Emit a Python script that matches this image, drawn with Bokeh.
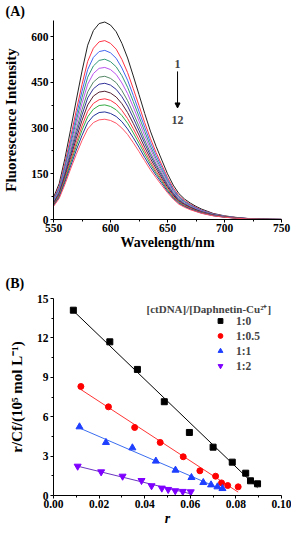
from bokeh.plotting import figure
from bokeh.layouts import column
from bokeh.models import (Range1d, Label, Arrow, NormalHead, Legend, LegendItem,
                          PrintfTickFormatter, FixedTicker)
from bokeh.embed import file_html
from bokeh.resources import INLINE
import numpy as np

# ---------------- Panel A data: fluorescence spectra ----------------
wavelength = [550, 555, 560, 565, 570, 575, 580, 585, 590, 595, 600, 605, 610, 615, 620,
              625, 630, 635, 640, 645, 650, 655, 660, 665, 670, 675, 680, 690, 700, 710,
              720, 730, 740, 750]

spec1 = [72, 118, 200, 295, 392, 487, 572, 620, 643, 648, 638, 616, 578, 530, 471, 410, 348, 290,
         240, 195, 150, 113, 85, 67, 54, 43, 34, 20, 12, 7, 3.5, 1.5, 0.6, 0.2]
spec2 = [66, 109, 184, 270, 358, 443, 519, 562, 583, 587, 578, 559, 525, 482, 429, 374, 318, 266,
         220, 179, 138, 104, 78, 62, 50, 40, 31, 18.5, 11.1, 6.5, 3.2, 1.4, 0.55, 0.2]
spec3 = [64, 104, 175, 257, 340, 421, 492, 532, 551, 555, 547, 529, 497, 457, 407, 355, 303, 253,
         210, 171, 132, 99, 75, 59, 48, 38, 30, 17.7, 10.6, 6.2, 3.1, 1.3, 0.53, 0.18]
spec4 = [61, 99, 168, 246, 324, 400, 467, 504, 522, 526, 518, 501, 472, 434, 387, 338, 289, 241,
         200, 163, 126, 95, 72, 57, 46, 36, 29, 17, 10.2, 5.9, 3.0, 1.3, 0.5, 0.18]
spec5 = [58, 95, 160, 235, 309, 381, 444, 479, 496, 499, 492, 476, 448, 413, 369, 323, 275, 231,
         192, 156, 121, 91, 69, 54, 44, 35, 28, 16.3, 9.8, 5.7, 2.9, 1.2, 0.49, 0.17]
spec6 = [56, 91, 153, 223, 293, 360, 419, 451, 467, 470, 463, 449, 423, 390, 349, 306, 261, 219,
         182, 149, 115, 87, 66, 52, 42, 33, 26, 15.6, 9.4, 5.5, 2.7, 1.2, 0.46, 0.16]
spec7 = [54, 87, 147, 213, 280, 343, 399, 429, 444, 447, 441, 427, 403, 372, 333, 292, 250, 210,
         175, 143, 111, 84, 63, 50, 40, 32, 25, 15, 9.0, 5.3, 2.6, 1.1, 0.45, 0.16]
spec8 = [51, 83, 140, 203, 266, 325, 376, 405, 418, 421, 415, 402, 380, 351, 315, 277, 237, 200,
         167, 136, 106, 80, 60, 48, 39, 31, 24, 14.4, 8.6, 5.0, 2.5, 1.1, 0.43, 0.15]
spec9 = [49, 80, 133, 193, 252, 307, 355, 381, 393, 396, 391, 379, 358, 331, 298, 262, 225, 190,
         158, 130, 101, 76, 58, 46, 37, 29, 23, 13.7, 8.3, 4.8, 2.4, 1.0, 0.41, 0.15]
spec10 = [47, 77, 128, 185, 241, 293, 337, 362, 374, 376, 371, 360, 341, 316, 284, 250, 215, 182,
          152, 125, 97, 73, 56, 44, 35, 28, 22, 13.2, 8.0, 4.7, 2.3, 1.0, 0.4, 0.14]
spec11 = [45, 73, 122, 175, 228, 276, 318, 340, 351, 353, 348, 338, 321, 297, 268, 237, 204, 173,
          145, 119, 92, 70, 53, 42, 34, 27, 21, 12.7, 7.6, 4.5, 2.2, 1.0, 0.37, 0.14]
spec12 = [43, 69, 115, 166, 214, 259, 297, 318, 327, 329, 325, 316, 300, 279, 252, 223, 193, 163,
          137, 112, 88, 67, 50, 40, 32, 26, 20, 12.1, 7.3, 4.2, 2.1, 0.9, 0.35, 0.12]

spectra = [spec1, spec2, spec3, spec4, spec5, spec6, spec7, spec8, spec9, spec10, spec11, spec12]
spec_colors = ["#222222", "#ff3344", "#4466ee", "#339977", "#bb55ee", "#558866",
               "#333399", "#552233", "#ff3344", "#33aa44", "#223399", "#ff5566"]

# ---------------- Panel B data: Scatchard plot ----------------
series_names = ["1:0", "1:0.5", "1:1", "1:2"]
r_10 = [0.0087, 0.0247, 0.0368, 0.0486, 0.0596, 0.0700, 0.0784, 0.0843, 0.0864, 0.0895]
v_10 = [14.11, 11.70, 9.60, 7.14, 4.80, 3.68, 2.54, 1.70, 1.12, 0.89]
r_105 = [0.0120, 0.0241, 0.0356, 0.0468, 0.0569, 0.0642, 0.0711, 0.0737, 0.0764, 0.0810]
v_105 = [8.30, 6.75, 5.18, 4.04, 2.95, 1.88, 1.47, 0.96, 0.76, 0.66]
r_11 = [0.0114, 0.0230, 0.0346, 0.0449, 0.0535, 0.0605, 0.0657, 0.0691, 0.0719, 0.0741]
v_11 = [5.23, 4.04, 3.63, 2.62, 1.93, 1.37, 0.99, 0.81, 0.66, 0.53]
r_12 = [0.0106, 0.0209, 0.0303, 0.0386, 0.0430, 0.0475, 0.0503, 0.0534, 0.0567, 0.0602]
v_12 = [2.23, 1.80, 1.47, 1.14, 0.74, 0.56, 0.46, 0.36, 0.31, 0.28]

FONT = "Liberation Serif"


def style_axes(p, xlabel, ylabel, label_size_x, label_size_y):
    for ax in (p.xaxis[0], p.yaxis[0]):
        ax.axis_line_color = "black"
        ax.axis_line_width = 1
        ax.major_tick_out = 3
        ax.major_tick_in = 0
        ax.minor_tick_out = 2
        ax.minor_tick_in = 0
        ax.major_tick_line_color = "black"
        ax.minor_tick_line_color = "black"
        ax.major_label_text_font = FONT
        ax.major_label_text_font_style = "bold"
        ax.major_label_text_font_size = "11.5px"
        ax.major_label_text_color = "black"
        ax.axis_label_text_font = FONT
        ax.axis_label_text_font_style = "bold"
        ax.axis_label_text_color = "black"
        ax.major_label_standoff = 2
    p.xaxis[0].axis_label = xlabel
    p.yaxis[0].axis_label = ylabel
    p.xaxis[0].axis_label_text_font_size = label_size_x
    p.yaxis[0].axis_label_text_font_size = label_size_y
    p.xaxis[0].major_label_standoff = 1
    p.xaxis[0].axis_label_standoff = 0
    p.yaxis[0].axis_label_standoff = 9
    p.xgrid.visible = False
    p.ygrid.visible = False
    p.outline_line_color = None


def style_title(p, text, standoff):
    p.title.text = text
    p.title.align = "left"
    p.title.offset = -48
    p.title.standoff = standoff
    p.title.text_font = FONT
    p.title.text_font_style = "bold"
    p.title.text_font_size = "14px"
    p.title.text_color = "black"


# ---------------- Panel A ----------------
pA = figure(width=291, height=252, output_backend="svg", toolbar_location=None,
            x_range=Range1d(550, 750), y_range=Range1d(0, 653),
            min_border_left=48, min_border_right=10, min_border_top=20, min_border_bottom=30)
for s, c in zip(spectra, spec_colors):
    pA.line(wavelength, s, line_color=c, line_width=1)
style_axes(pA, "Wavelength/nm", "Fluorescence Intensity", "14px", "15px")
style_title(pA, "(A)", 3)
pA.xaxis[0].ticker = FixedTicker(ticks=[550, 600, 650, 700, 750],
                                 minor_ticks=[575, 625, 675, 725])
pA.yaxis[0].ticker = FixedTicker(ticks=[0, 150, 300, 450, 600],
                                 minor_ticks=[75, 225, 375, 525])

pA.add_layout(Label(x=658.8, y=511, text="1", text_font=FONT, text_font_style="bold",
                    text_font_size="12px", text_align="center", text_baseline="middle"))
pA.add_layout(Label(x=658.8, y=328, text="12", text_font=FONT, text_font_style="bold",
                    text_font_size="12px", text_align="center", text_baseline="middle"))
pA.add_layout(Arrow(x_start=658.8, y_start=486, x_end=658.8, y_end=366,
                    line_color="black", line_width=1,
                    end=NormalHead(size=5, fill_color="black", line_color="black")))

# ---------------- Panel B ----------------
pB = figure(width=291, height=276, output_backend="svg", toolbar_location=None,
            x_range=Range1d(0, 0.1), y_range=Range1d(0, 15),
            min_border_left=48, min_border_right=10, min_border_top=46, min_border_bottom=30)
style_axes(pB, "r", "r/Cf/(10⁵ mol L⁻¹)", "14px", "15px")
style_title(pB, "(B)", 16)
pB.xaxis[0].axis_label_text_font_style = "bold italic"
pB.xaxis[0].ticker = FixedTicker(ticks=[0, 0.02, 0.04, 0.06, 0.08, 0.10],
                                 minor_ticks=[0.01, 0.03, 0.05, 0.07, 0.09])
pB.xaxis[0].formatter = PrintfTickFormatter(format="%.2f")
pB.yaxis[0].ticker = FixedTicker(ticks=[0, 3, 6, 9, 12, 15],
                                 minor_ticks=[1.5, 4.5, 7.5, 10.5, 13.5])

sets = [(r_10, v_10, "black", "black", "square", 6),
        (r_105, v_105, "red", "#ff3333", "circle", 6),
        (r_11, v_11, "#1f3fff", "#3a6df0", "triangle", 7),
        (r_12, v_12, "#7f00ff", "#6a35c0", "inverted_triangle", 7)]
items = []
for (rr, vv, mc, lc, mk, sz), name in zip(sets, series_names):
    k, b = np.polyfit(rr, vv, 1)
    xs = [min(rr), max(rr)]
    pB.line(xs, [k * x + b for x in xs], line_color=lc, line_width=1)
    rend = pB.scatter(rr, vv, marker=mk, size=sz, fill_color=mc, line_color=mc)
    items.append(LegendItem(label=name, renderers=[rend]))

legend = Legend(items=items, location=(161, 123), orientation="vertical",
                glyph_width=12, glyph_height=13, label_height=13, spacing=2,
                padding=0, margin=0, label_standoff=10,
                label_text_font=FONT, label_text_font_style="bold",
                label_text_font_size="11.5px", border_line_color=None,
                background_fill_alpha=0)
pB.add_layout(legend)

pB.add_layout(Label(x=93, y=187, x_units="screen", y_units="screen",
                    text="[ctDNA]/[Daphnetin-Cu²⁺]", text_font=FONT,
                    text_font_style="bold", text_font_size="11px",
                    text_align="left", text_baseline="middle"))

layout = column(pA, pB, spacing=0)
open("out.html", "w").write(file_html(layout, INLINE))
